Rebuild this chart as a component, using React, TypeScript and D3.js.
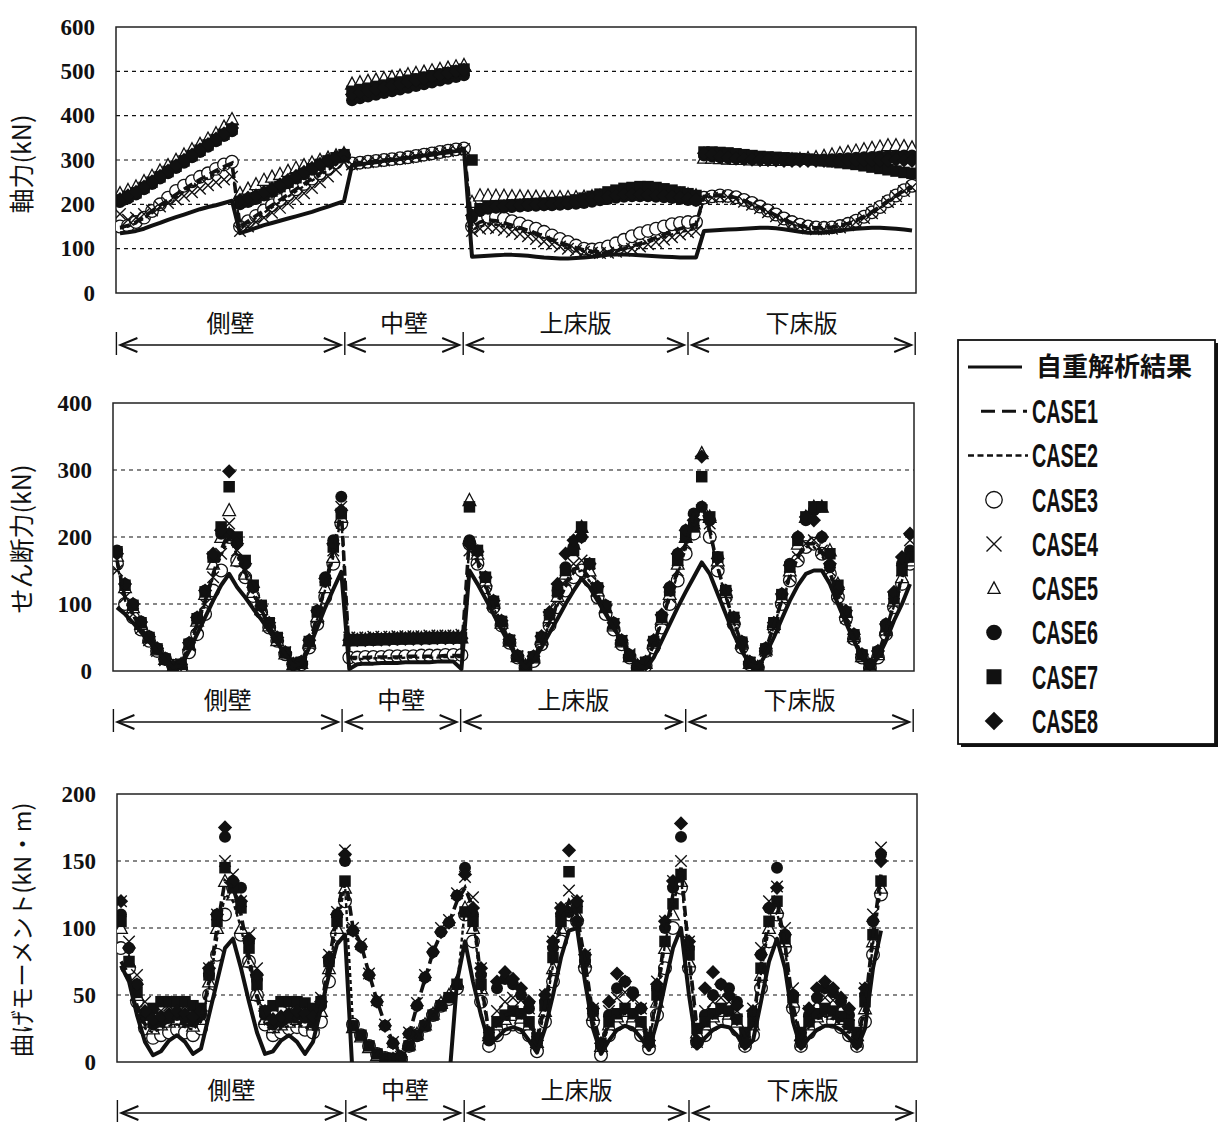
import React, { useRef, useEffect } from "react";
import * as d3 from "d3";

const seriesNames = ["自重解析結果", "CASE1", "CASE2", "CASE3", "CASE4", "CASE5", "CASE6", "CASE7", "CASE8"];
const sectionNames = ["側壁", "中壁", "上床版", "下床版"];
// section limits, in point-index units
const sectionBounds = [-0.45, 28.1, 42.9, 71.0, 99.4];

const axialTicks = [0, 100, 200, 300, 400, 500, 600];
const shearTicks = [0, 100, 200, 300, 400];
const momentTicks = [0, 50, 100, 150, 200];

type V = number | null;
const _ = null;

// 軸力 (kN)
const axialSelf: V[] = [
  135, 137, 140, 145, 152, 158, 165, 171, 177, 183, 189, 194, 198, 203, 208,
  135, 141, 147, 153, 158, 163, 168, 173, 178, 183, 189, 195, 201, 207,
  288, 290, 293, 295, 298, 300, 302, 305, 307, 310, 312, 315, 317, 320, 322,
  82, 83, 84, 85, 86, 86, 85, 84, 82, 80, 79, 78, 78, 79, 80, 82, 84, 86, 87, 87, 86, 85, 84, 83, 82, 81, 80, 80, 80,
  140, 141, 142, 143, 144, 145, 146, 147, 147, 146, 144, 141, 138, 136, 136, 137, 139, 141, 143, 145, 146, 147, 147, 146, 145, 143, 141,
];
const axialCase1: V[] = [
  148, 152, 160, 172, 185, 198, 210, 222, 234, 245, 256, 266, 276, 285, 293,
  150, 162, 174, 186, 198, 210, 222, 234, 246, 258, 270, 282, 294, 306,
  292, 294, 296, 298, 300, 302, 304, 306, 309, 312, 315, 318, 321, 324, 326,
  148, 160, 165, 163, 158, 153, 147, 141, 135, 128, 121, 114, 108, 102, 97, 94, 92, 93, 96, 100, 106, 112, 118, 125, 132, 139, 145, 150, 155,
  218, 220, 221, 219, 215, 209, 201, 193, 184, 175, 166, 158, 152, 148, 147, 147, 149, 152, 157, 164, 173, 183, 195, 208, 220, 232, 240,
];
const axialCase2: V[] = [
  145, 150, 157, 168, 180, 192, 204, 216, 228, 239, 250, 260, 270, 280, 290,
  145, 157, 169, 181, 193, 205, 217, 229, 241, 253, 265, 277, 289, 301,
  290, 292, 294, 296, 298, 300, 302, 304, 307, 310, 313, 316, 319, 322, 324,
  142, 150, 155, 154, 150, 146, 141, 136, 130, 124, 117, 110, 104, 98, 94, 91, 90, 91, 94, 98, 103, 108, 114, 120, 126, 132, 137, 141, 145,
  214, 217, 218, 216, 212, 206, 198, 190, 181, 172, 163, 155, 149, 145, 144, 144, 146, 149, 154, 161, 170, 180, 192, 205, 217, 229, 236,
];
const axialCase3: V[] = [
  150, 152, 160, 170, 185, 200, 215, 230, 242, 252, 262, 270, 280, 290, 296,
  150, 162, 174, 186, 198, 210, 222, 234, 246, 258, 270, 282, 294, 310,
  292, 294, 296, 298, 300, 302, 304, 306, 309, 312, 315, 318, 321, 324, 326,
  150, 165, 172, 172, 168, 162, 157, 150, 145, 138, 130, 122, 115, 107, 100, 98, 100, 105, 112, 120, 128, 135, 140, 145, 150, 155, 158, 160, 160,
  215, 218, 220, 219, 216, 210, 203, 195, 186, 177, 168, 160, 154, 150, 148, 147, 148, 151, 156, 163, 172, 182, 194, 207, 220, 232, 242,
];
const axialCase4: V[] = [
  178, 165, 170, 178, 186, 195, 203, 211, 219, 227, 235, 243, 250, 256, 262,
  140, 150, 160, 170, 181, 192, 203, 214, 225, 237, 250, 263, 278, 295,
  290, 293, 295, 297, 299, 301, 303, 305, 308, 311, 314, 317, 320, 323, 325,
  140, 145, 148, 146, 142, 138, 133, 128, 122, 116, 110, 105, 100, 96, 93, 91, 90, 91, 93, 96, 100, 105, 110, 115, 120, 126, 132, 137, 140,
  212, 215, 217, 216, 212, 206, 199, 191, 182, 173, 164, 156, 150, 146, 144, 144, 145, 148, 153, 160, 169, 180, 192, 205, 218, 230, 238,
];
const axialCase5: V[] = [
  225, 232, 240, 252, 264, 276, 288, 300, 312, 324, 336, 348, 360, 375, 392,
  225, 235, 245, 255, 262, 268, 275, 282, 288, 294, 300, 305, 310, 315,
  472, 475, 478, 481, 484, 487, 490, 493, 496, 499, 502, 505, 508, 511, 514,
  205, 220, 220, 219, 219, 218, 218, 217, 217, 216, 216, 216, 216, 216, 217, 218, 219, 220, 221, 222, 223, 224, 225, 226, 226, 225, 224, 222, 220,
  305, 305, 304, 303, 302, 302, 301, 301, 300, 300, 300, 301, 302, 304, 306, 309, 312, 315, 318, 321, 324, 327, 330, 333, 333, 331, 328,
];
const axialCase6: V[] = [
  205, 213, 222, 234, 246, 258, 270, 282, 294, 306, 318, 330, 342, 354, 365,
  200, 205, 212, 220, 228, 238, 248, 258, 268, 278, 288, 296, 304, 310,
  435, 439, 443, 447, 451, 455, 459, 463, 467, 471, 475, 479, 483, 487, 491,
  170, 185, 190, 192, 193, 194, 195, 196, 197, 198, 198, 199, 200, 201, 203, 206, 209, 212, 215, 217, 218, 218, 218, 217, 216, 214, 212, 210, 208,
  310, 308, 306, 305, 304, 303, 302, 302, 301, 301, 300, 300, 300, 300, 300, 301, 302, 303, 304, 305, 306, 307, 308, 309, 310, 310, 310,
];
const axialCase7: V[] = [
  210, 218, 226, 238, 250, 262, 274, 286, 298, 310, 322, 334, 346, 358, 370,
  205, 210, 215, 222, 230, 240, 250, 260, 270, 280, 290, 298, 305, 312,
  455, 459, 462, 466, 469, 473, 476, 480, 483, 487, 490, 494, 497, 501, 505,
  300, 190, 195, 197, 198, 199, 200, 201, 202, 203, 204, 205, 207, 210, 214, 218, 223, 228, 232, 236, 238, 240, 240, 238, 235, 232, 228, 224, 220,
  318, 318, 317, 316, 314, 312, 310, 308, 307, 306, 305, 304, 303, 302, 300, 298, 296, 294, 292, 290, 287, 284, 281, 278, 275, 272, 270,
];
const axialCase8: V[] = [
  212, 220, 228, 240, 252, 264, 276, 288, 300, 312, 324, 336, 348, 360, 372,
  210, 215, 220, 228, 236, 245, 255, 264, 273, 282, 291, 299, 306, 312,
  448, 452, 456, 460, 464, 468, 472, 476, 480, 484, 488, 492, 496, 500, 503,
  175, 188, 193, 195, 196, 197, 198, 199, 200, 200, 201, 202, 203, 205, 208, 211, 214, 217, 220, 222, 222, 222, 221, 220, 219, 217, 215, 213, 210,
  315, 312, 308, 305, 303, 302, 301, 300, 300, 299, 298, 298, 298, 298, 298, 298, 298, 298, 299, 299, 300, 300, 300, 300, 300, 299, 298,
];

// せん断力 (kN)
const shearSelf: V[] = [
  95, 85, 72, 58, 44, 30, 17, 5, 8, 30, 55, 80, 105, 128, 145,
  125, 110, 93, 77, 60, 42, 25, 8, 10, 35, 65, 95, 122, 148,
  3, 10, 11, 11, 12, 12, 12, 13, 13, 13, 13, 14, 14, 14, 3,
  150, 130, 108, 85, 62, 40, 18, 5, 15, 35, 57, 78, 100, 120, 138, 125, 105, 85, 65, 45, 27, 10, 3, 20, 45, 70, 95, 118, 140,
  162, 145, 115, 85, 55, 30, 10, 5, 25, 50, 78, 105, 128, 145, 150, 150, 130, 100, 72, 45, 20, 5, 20, 45, 75, 100, 130,
];
const shearCase1: V[] = [
  165, 110, 85, 64, 46, 30, 17, 6, 10, 38, 70, 105, 145, 180, 210,
  180, 148, 118, 92, 68, 46, 26, 10, 12, 42, 82, 128, 180, 240,
  20, 20, 20, 21, 21, 21, 21, 22, 22, 22, 22, 22, 23, 23, 23,
  200, 165, 128, 97, 70, 44, 21, 7, 18, 44, 73, 102, 130, 152, 155, 138, 113, 88, 64, 42, 21, 6, 10, 40, 75, 112, 150, 190, 235,
  250, 210, 155, 112, 74, 40, 12, 6, 32, 68, 106, 142, 172, 190, 190, 178, 148, 112, 80, 50, 22, 7, 24, 60, 100, 140, 180,
];
const shearCase2: V[] = [
  160, 105, 82, 62, 45, 30, 17, 6, 9, 36, 67, 100, 140, 172, 200,
  172, 143, 114, 89, 66, 45, 26, 10, 11, 40, 78, 122, 170, 230,
  18, 18, 18, 19, 19, 19, 19, 20, 20, 20, 20, 20, 21, 21, 21,
  190, 160, 124, 95, 68, 43, 21, 7, 17, 42, 70, 98, 125, 146, 150, 134, 110, 86, 63, 41, 21, 6, 9, 38, 72, 108, 145, 182, 225,
  240, 205, 152, 110, 72, 39, 12, 6, 31, 66, 103, 138, 168, 185, 185, 173, 145, 110, 78, 49, 21, 7, 23, 58, 97, 135, 170,
];
const shearCase3: V[] = [
  160, 100, 80, 62, 45, 30, 18, 8, 5, 28, 55, 85, 120, 150, 200,
  165, 140, 112, 88, 65, 45, 25, 10, 10, 35, 70, 110, 160, 220,
  20, 20, 21, 21, 21, 22, 22, 22, 22, 23, 23, 23, 24, 24, 24,
  190, 160, 125, 95, 68, 42, 20, 5, 15, 40, 68, 95, 120, 140, 150, 135, 110, 85, 62, 40, 20, 5, 8, 35, 65, 100, 135, 175, 205,
  235, 200, 150, 110, 70, 35, 10, 5, 30, 65, 100, 135, 165, 185, 190, 175, 145, 110, 78, 48, 20, 5, 20, 55, 95, 130, 160,
];
const shearCase4: V[] = [
  150, 110, 85, 64, 46, 30, 16, 6, 10, 38, 68, 100, 140, 175, 220,
  180, 150, 120, 95, 70, 48, 28, 10, 12, 40, 80, 125, 180, 245,
  50, 50, 50, 51, 51, 51, 52, 52, 52, 52, 53, 53, 53, 53, 54,
  180, 165, 130, 100, 72, 45, 22, 8, 20, 45, 75, 105, 135, 160, 165, 145, 120, 95, 70, 45, 25, 8, 12, 40, 75, 110, 150, 190, 225,
  240, 220, 160, 115, 75, 40, 12, 5, 30, 65, 105, 140, 170, 190, 195, 180, 150, 115, 80, 50, 22, 8, 25, 60, 100, 150, 195,
];
const shearCase5: V[] = [
  172, 125, 95, 70, 50, 32, 18, 6, 10, 40, 75, 115, 160, 200, 240,
  165, 145, 118, 92, 68, 46, 26, 10, 12, 42, 82, 125, 170, 230,
  46, 46, 47, 47, 47, 48, 48, 48, 49, 49, 49, 50, 50, 50, 50,
  255, 175, 135, 102, 72, 45, 22, 8, 20, 48, 80, 112, 145, 190, 215, 150, 120, 95, 68, 44, 22, 8, 12, 42, 78, 115, 160, 200, 220,
  325, 230, 165, 118, 78, 42, 12, 6, 32, 70, 110, 150, 190, 230, 245, 245, 180, 130, 88, 52, 22, 8, 25, 62, 105, 140, 165,
];
const shearCase6: V[] = [
  180, 130, 100, 74, 52, 34, 19, 7, 10, 42, 80, 120, 170, 205, 205,
  195, 160, 125, 97, 72, 50, 28, 10, 14, 45, 90, 140, 195, 260,
  45, 46, 46, 46, 47, 47, 47, 48, 48, 48, 48, 49, 49, 49, 49,
  195, 180, 140, 105, 75, 47, 23, 8, 22, 50, 85, 120, 155, 185, 200, 160, 125, 98, 72, 46, 24, 8, 14, 45, 82, 125, 175, 210, 235,
  245, 225, 170, 120, 80, 44, 14, 6, 34, 72, 115, 160, 200, 225, 240, 200, 155, 120, 88, 55, 25, 10, 30, 70, 115, 160, 180,
];
const shearCase7: V[] = [
  178, 128, 98, 72, 50, 33, 18, 7, 10, 40, 78, 118, 170, 215, 275,
  200, 165, 128, 98, 72, 50, 28, 10, 13, 44, 88, 135, 185, 235,
  47, 47, 47, 48, 48, 48, 49, 49, 49, 49, 50, 50, 50, 50, 50,
  245, 180, 140, 104, 74, 46, 22, 8, 21, 50, 84, 118, 150, 180, 215, 160, 124, 96, 70, 45, 23, 8, 13, 44, 80, 120, 165, 200, 215,
  290, 230, 170, 120, 80, 43, 13, 6, 33, 72, 114, 155, 195, 230, 245, 245, 175, 128, 88, 54, 24, 9, 28, 66, 108, 150, 170,
];
const shearCase8: V[] = [
  175, 130, 100, 73, 51, 34, 18, 7, 10, 42, 80, 120, 175, 210, 298,
  190, 160, 125, 97, 72, 50, 28, 10, 14, 46, 90, 138, 190, 240,
  46, 46, 46, 47, 47, 47, 48, 48, 48, 48, 49, 49, 49, 49, 49,
  190, 178, 140, 105, 75, 47, 23, 8, 22, 52, 88, 130, 175, 195, 200, 160, 126, 98, 72, 46, 24, 8, 14, 46, 84, 125, 175, 210, 225,
  320, 225, 168, 120, 80, 44, 14, 6, 34, 72, 115, 158, 200, 230, 225, 200, 160, 125, 90, 55, 25, 10, 30, 70, 118, 170, 205,
];

// 曲げモーメント (kN・m)
const momentSelf: V[] = [
  72, 60, 35, 15, 5, 8, 16, 20, 15, 6, 10, 35, 60, 85, 92,
  70, 45, 22, 6, 8, 16, 20, 15, 6, 15, 40, 65, 88, 95,
  -15, -15, -15, -15, -15, -15, -15, -15, -15, -15, -15, -15, -15, 60, 90,
  60, 35, 14, 18, 24, 26, 24, 16, 7, 25, 50, 78, 98, 100, 60, 25, 6, 16, 24, 27, 25, 18, 9, 30, 58, 85, 100, 50, 10,
  18, 24, 27, 26, 20, 10, 16, 45, 75, 92, 70, 30, 10, 18, 24, 27, 27, 24, 18, 10, 25, 70, 98, _, _, _, _,
];
const momentCase1: V[] = [
  75, 65, 42, 28, 25, 28, 30, 30, 28, 26, 32, 60, 100, 135, 130,
  110, 78, 50, 30, 25, 27, 30, 30, 28, 26, 40, 75, 110, 140,
  100, 88, 66, 46, 28, 15, 5, 20, 42, 62, 82, 96, 104, 120, 130,
  115, 60, 22, 30, 35, 37, 35, 30, 18, 42, 78, 105, 120, 110, 75, 35, 12, 30, 36, 38, 35, 30, 18, 50, 95, 125, 145, 80, 25,
  30, 36, 38, 36, 30, 20, 30, 72, 108, 120, 88, 42, 18, 28, 34, 36, 34, 30, 25, 18, 40, 95, 140, _, _, _, _,
];
const momentCase2: V[] = [
  70, 60, 40, 25, 22, 25, 27, 28, 26, 24, 30, 55, 92, 125, 120,
  100, 72, 46, 28, 22, 25, 27, 28, 26, 24, 36, 70, 102, 132,
  28, 20, 12, 6, 3, 2, 2, 12, 20, 27, 35, 42, 48, 56, 115,
  108, 55, 20, 27, 32, 35, 33, 27, 15, 38, 72, 100, 115, 105, 72, 32, 10, 27, 33, 36, 33, 27, 15, 46, 88, 118, 138, 75, 22,
  27, 33, 36, 34, 28, 18, 27, 66, 100, 112, 84, 40, 16, 26, 32, 34, 32, 28, 22, 16, 36, 88, 130, _, _, _, _,
];
const momentCase3: V[] = [
  85, 70, 45, 25, 18, 20, 22, 24, 22, 20, 25, 50, 80, 110, 130,
  95, 75, 50, 28, 20, 22, 25, 26, 24, 22, 30, 60, 95, 120,
  28, 20, 12, 6, 3, 2, 2, 12, 20, 27, 35, 42, 47, 55, 110,
  90, 45, 12, 20, 25, 28, 26, 20, 8, 30, 60, 90, 110, 105, 70, 30, 5, 20, 28, 32, 28, 20, 10, 35, 70, 100, 130, 70, 15,
  20, 28, 32, 30, 24, 12, 20, 55, 90, 110, 85, 40, 12, 22, 28, 32, 30, 26, 20, 12, 30, 80, 125, _, _, _, _,
];
const momentCase4: V[] = [
  120, 90, 65, 45, 35, 38, 42, 45, 42, 38, 40, 70, 110, 150, 140,
  120, 95, 70, 40, 32, 35, 38, 40, 38, 35, 48, 80, 112, 158,
  100, 88, 66, 46, 28, 15, 4, 22, 44, 65, 85, 100, 106, 126, 138,
  123, 70, 18, 38, 45, 48, 46, 40, 15, 50, 90, 115, 128, 120, 80, 40, 12, 38, 48, 52, 48, 40, 15, 60, 105, 135, 150, 90, 15,
  38, 45, 48, 45, 38, 15, 40, 85, 120, 131, 100, 55, 15, 38, 45, 48, 46, 42, 35, 15, 55, 110, 160, _, _, _, _,
];
const momentCase5: V[] = [
  100, 75, 50, 30, 25, 28, 30, 32, 30, 27, 32, 60, 100, 135, 125,
  100, 75, 50, 32, 26, 28, 30, 32, 30, 28, 38, 70, 100, 130,
  26, 19, 11, 5, 2, 2, 2, 13, 21, 28, 36, 44, 50, 60, 115,
  100, 55, 20, 28, 32, 35, 33, 28, 15, 38, 70, 100, 115, 110, 75, 35, 12, 28, 34, 38, 34, 28, 16, 45, 85, 110, 135, 75, 22,
  28, 34, 38, 36, 30, 20, 28, 65, 100, 115, 90, 45, 20, 28, 34, 38, 36, 32, 26, 20, 40, 90, 130, _, _, _, _,
];
const momentCase6: V[] = [
  110, 85, 58, 35, 28, 30, 33, 35, 33, 30, 35, 65, 110, 168, 135,
  130, 90, 62, 35, 28, 30, 33, 35, 33, 30, 42, 75, 110, 150,
  98, 86, 65, 45, 27, 14, 4, 21, 42, 63, 82, 97, 104, 124, 145,
  110, 65, 16, 55, 62, 58, 50, 40, 14, 45, 85, 110, 112, 105, 75, 38, 12, 35, 55, 60, 52, 40, 14, 55, 100, 130, 168, 85, 14,
  35, 50, 58, 55, 45, 14, 35, 80, 115, 145, 95, 50, 14, 35, 48, 55, 52, 45, 35, 14, 50, 105, 155, _, _, _, _,
];
const momentCase7: V[] = [
  105, 75, 52, 35, 40, 45, 45, 45, 45, 42, 40, 65, 105, 145, 130,
  115, 85, 58, 38, 42, 45, 45, 45, 44, 40, 45, 75, 105, 135,
  27, 20, 12, 6, 3, 2, 2, 12, 20, 27, 35, 42, 48, 58, 112,
  105, 58, 22, 30, 35, 38, 36, 30, 18, 42, 78, 105, 142, 115, 78, 38, 14, 30, 36, 40, 36, 30, 18, 50, 90, 118, 140, 80, 25,
  30, 36, 40, 38, 32, 22, 30, 70, 105, 120, 92, 48, 22, 30, 36, 40, 38, 34, 28, 22, 45, 95, 135, _, _, _, _,
];
const momentCase8: V[] = [
  120, 85, 58, 38, 32, 34, 36, 38, 36, 34, 38, 70, 110, 175, 135,
  120, 92, 65, 38, 32, 34, 36, 38, 36, 34, 45, 78, 110, 155,
  98, 86, 65, 45, 27, 14, 4, 21, 42, 63, 82, 97, 104, 124, 140,
  115, 70, 18, 60, 67, 62, 55, 45, 16, 50, 90, 115, 158, 120, 80, 40, 14, 45, 66, 60, 50, 40, 16, 58, 105, 135, 178, 90, 16,
  55, 67, 58, 50, 42, 16, 38, 80, 115, 130, 95, 50, 16, 40, 55, 60, 55, 48, 40, 16, 55, 105, 150, _, _, _, _,
];

const panels = [
  {
    title: "軸力(kN)", ticks: axialTicks, titleSize: 25,
    series: [axialSelf, axialCase1, axialCase2, axialCase3, axialCase4, axialCase5, axialCase6, axialCase7, axialCase8],
    left: 116, right: 916, top: 27, bottom: 293, titleY: 164, labelY: 323, arrowY: 345,
  },
  {
    title: "せん断力(kN)", ticks: shearTicks, titleSize: 25,
    series: [shearSelf, shearCase1, shearCase2, shearCase3, shearCase4, shearCase5, shearCase6, shearCase7, shearCase8],
    left: 113, right: 914, top: 403, bottom: 671, titleY: 539, labelY: 700, arrowY: 722,
  },
  {
    title: "曲げモーメント(kN・m)", ticks: momentTicks, titleSize: 23.5,
    series: [momentSelf, momentCase1, momentCase2, momentCase3, momentCase4, momentCase5, momentCase6, momentCase7, momentCase8],
    left: 117, right: 917, top: 794, bottom: 1062, titleY: 930, labelY: 1090, arrowY: 1113,
  },
];

const INK = "#111";
const serif = "'Liberation Serif', 'Times New Roman', serif";
const jp = "'Noto Sans CJK JP', sans-serif";
const narrow = "'Liberation Sans Narrow', 'Liberation Sans', Arial, sans-serif";

// marker drawing per CASE3..CASE8
const markerKinds = ["circle", "x", "triangle", "dot", "square", "diamond"];

function drawMarker(sel: d3.Selection<SVGGElement, unknown, null, undefined>, kind: string, s: number) {
  if (kind === "circle") {
    sel.append("circle").attr("r", s * 0.55).attr("fill", "#fff").attr("stroke", INK).attr("stroke-width", 1.3);
  } else if (kind === "dot") {
    sel.append("circle").attr("r", s * 0.52).attr("fill", INK);
  } else if (kind === "x") {
    const r = s * 0.5;
    sel.append("path").attr("d", `M${-r},${-r}L${r},${r}M${-r},${r}L${r},${-r}`).attr("stroke", INK).attr("stroke-width", 1.4).attr("fill", "none");
  } else if (kind === "triangle") {
    const r = s * 0.58;
    sel.append("path").attr("d", `M0,${-r}L${r * 0.95},${r * 0.8}L${-r * 0.95},${r * 0.8}Z`).attr("fill", "#fff").attr("stroke", INK).attr("stroke-width", 1.3);
  } else if (kind === "square") {
    const r = s * 0.5;
    sel.append("rect").attr("x", -r).attr("y", -r).attr("width", 2 * r).attr("height", 2 * r).attr("fill", INK);
  } else if (kind === "diamond") {
    const r = s * 0.62;
    sel.append("path").attr("d", `M0,${-r}L${r},0L0,${r}L${-r},0Z`).attr("fill", INK);
  }
}

export default function App() {
  const svgRef = useRef<SVGSVGElement>(null);

  useEffect(() => {
    if (!svgRef.current) return;
    const svg = d3.select(svgRef.current);
    svg.selectAll("*").remove();

    panels.forEach((p, pi) => {
      const x = d3.scaleLinear().domain([-0.5, 99.5]).range([p.left, p.right]);
      const y = d3.scaleLinear().domain([0, p.ticks[p.ticks.length - 1]]).range([p.bottom, p.top]);
      const g = svg.append("g");

      const clipId = `plot-clip-${pi}`;
      svg.append("clipPath").attr("id", clipId)
        .append("rect").attr("x", p.left).attr("y", p.top - 8).attr("width", p.right - p.left).attr("height", p.bottom - p.top + 8);

      // grid
      g.selectAll(".grid").data(p.ticks.slice(1, -1)).enter().append("line")
        .attr("x1", p.left).attr("x2", p.right)
        .attr("y1", (d) => y(d)).attr("y2", (d) => y(d))
        .attr("stroke", INK).attr("stroke-width", 1.1).attr("stroke-dasharray", "4,4");

      // frame
      g.append("rect").attr("x", p.left).attr("y", p.top).attr("width", p.right - p.left).attr("height", p.bottom - p.top)
        .attr("fill", "none").attr("stroke", "#222").attr("stroke-width", 1.5);

      // tick labels
      g.selectAll(".tick").data(p.ticks).enter().append("text")
        .attr("x", p.left - 21).attr("y", (d) => y(d)).attr("dy", "0.34em")
        .attr("text-anchor", "end").attr("font-family", serif).attr("font-weight", "bold").attr("font-size", 23)
        .attr("fill", INK).text((d) => d);

      // axis title
      g.append("text")
        .attr("transform", `translate(31,${p.titleY}) rotate(-90)`)
        .attr("text-anchor", "middle").attr("font-family", jp).attr("font-size", p.titleSize).attr("fill", INK)
        .text(p.title);

      const plot = g.append("g").attr("clip-path", `url(#${clipId})`);
      const line = d3.line<V>().defined((d) => d != null).x((d, i) => x(i)).y((d) => y(d as number));

      // markers CASE3..CASE8
      p.series.slice(3).forEach((vals, k) => {
        vals.forEach((v, i) => {
          if (v == null) return;
          const m = plot.append("g").attr("transform", `translate(${x(i)},${y(v)})`);
          drawMarker(m, markerKinds[k], 11.5);
        });
      });

      // lines: CASE2, CASE1, self weight
      plot.append("path").datum(p.series[2]).attr("d", line).attr("fill", "none")
        .attr("stroke", INK).attr("stroke-width", 2.4).attr("stroke-dasharray", "4,3");
      plot.append("path").datum(p.series[1]).attr("d", line).attr("fill", "none")
        .attr("stroke", INK).attr("stroke-width", 3.6).attr("stroke-dasharray", "10,5");
      plot.append("path").datum(p.series[0]).attr("d", line).attr("fill", "none")
        .attr("stroke", INK).attr("stroke-width", 4).attr("stroke-linejoin", "round");

      // section arrows
      const sx = sectionBounds.map((b) => x(b));
      sx.forEach((bx) => {
        g.append("line").attr("x1", bx).attr("x2", bx).attr("y1", p.arrowY - 13).attr("y2", p.arrowY + 10)
          .attr("stroke", INK).attr("stroke-width", 1.4);
      });
      sectionNames.forEach((name, si) => {
        const a = sx[si] + 4;
        const b = sx[si + 1] - 4;
        g.append("line").attr("x1", a).attr("x2", b).attr("y1", p.arrowY).attr("y2", p.arrowY)
          .attr("stroke", INK).attr("stroke-width", 1.6);
        g.append("path").attr("d", `M${a + 17},${p.arrowY - 7}L${a},${p.arrowY}L${a + 17},${p.arrowY + 7}`)
          .attr("fill", "none").attr("stroke", INK).attr("stroke-width", 2);
        g.append("path").attr("d", `M${b - 17},${p.arrowY - 7}L${b},${p.arrowY}L${b - 17},${p.arrowY + 7}`)
          .attr("fill", "none").attr("stroke", INK).attr("stroke-width", 2);
        g.append("text").attr("x", (sx[si] + sx[si + 1]) / 2).attr("y", p.labelY).attr("dy", "0.36em")
          .attr("text-anchor", "middle").attr("font-family", jp).attr("font-size", 24).attr("fill", INK)
          .text(name);
      });
    });

    // legend
    const lg = svg.append("g");
    const lx = 958, ly = 340, lw = 257, lh = 404;
    lg.append("rect").attr("x", lx + 3).attr("y", ly + 3).attr("width", lw).attr("height", lh).attr("fill", INK);
    lg.append("rect").attr("x", lx).attr("y", ly).attr("width", lw).attr("height", lh)
      .attr("fill", "#fff").attr("stroke", INK).attr("stroke-width", 1.8);
    const rowY = d3.scaleLinear().domain([0, 8]).range([367, 721]);
    seriesNames.forEach((name, i) => {
      const cy = rowY(i);
      if (i === 0) {
        lg.append("line").attr("x1", 968).attr("x2", 1022).attr("y1", cy).attr("y2", cy).attr("stroke", INK).attr("stroke-width", 3);
      } else if (i === 1) {
        lg.append("line").attr("x1", 981).attr("x2", 1027).attr("y1", cy).attr("y2", cy).attr("stroke", INK)
          .attr("stroke-width", 3).attr("stroke-dasharray", "14,7");
      } else if (i === 2) {
        lg.append("line").attr("x1", 968).attr("x2", 1028).attr("y1", cy).attr("y2", cy).attr("stroke", INK)
          .attr("stroke-width", 2.6).attr("stroke-dasharray", "6,3.5");
      } else {
        const m = lg.append("g").attr("transform", `translate(994,${cy})`);
        const kind = markerKinds[i - 3];
        drawMarker(m, kind, kind === "triangle" ? 11 : 15);
      }
      const t = lg.append("text").attr("y", cy).attr("dy", "0.36em").attr("fill", INK).text(name);
      if (i === 0) {
        t.attr("x", 1036).attr("font-family", jp).attr("font-weight", "bold").attr("font-size", 26);
      } else {
        t.attr("x", 1032).attr("font-family", narrow).attr("font-weight", "bold").attr("font-size", 33)
          .attr("textLength", 66).attr("lengthAdjust", "spacingAndGlyphs");
      }
    });
  }, []);

  return (
    <svg
      ref={svgRef}
      width={1219}
      height={1122}
      style={{ position: "absolute", left: 0, top: 0, background: "#fff" }}
    />
  );
}
